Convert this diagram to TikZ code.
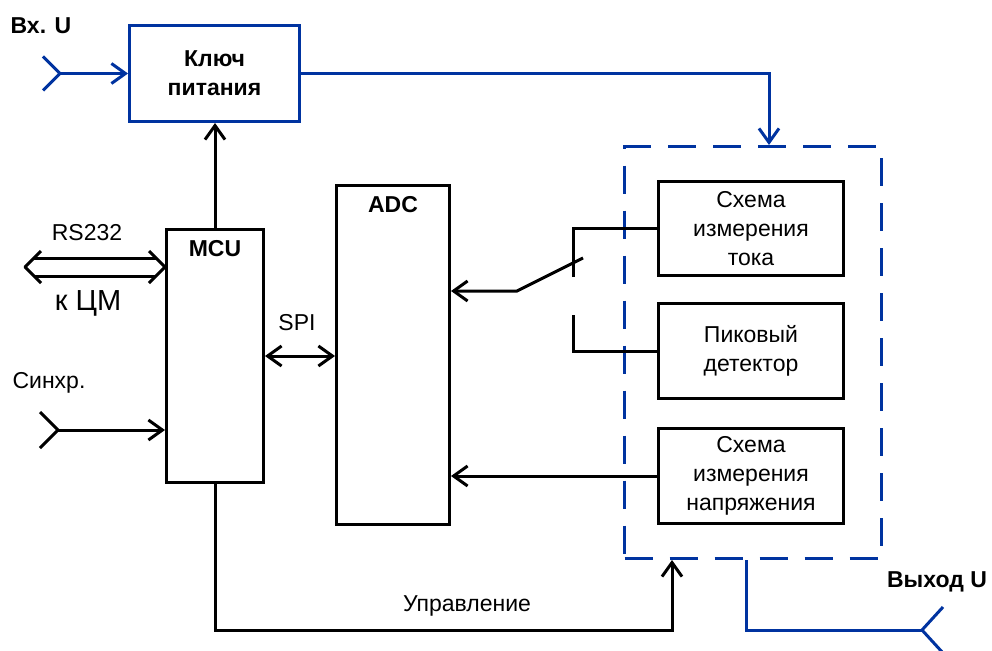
\documentclass[tikz,border=0pt]{standalone}
\usepackage{fontspec}
\setmainfont{Liberation Sans}
\usetikzlibrary{arrows.meta,positioning}
\definecolor{line-blue}{RGB}{0,51,160}

\begin{document}
\begin{tikzpicture}[x=1pt, y=-1pt, line width=3pt,
    every node/.style={font=\fontsize{23}{29}\selectfont},
    unit box/.style={draw, line width=3pt, inner sep=0pt, align=center, anchor=north west},
    blue box/.style={unit box, draw=line-blue},
    bold text/.style={font=\fontsize{23}{29}\selectfont\bfseries},
    barb/.style={-{Straight Barb[length=14pt, width=20pt]}},
    fork/.style={line width=3pt},
    bus/.style={line width=3pt, line join=round}
]
\useasboundingbox (0,0) rectangle (992,650);

% boxes
\node[blue box, bold text, minimum width=170pt, minimum height=96pt] (key) at (128,24) {Ключ\\питания};
\node[unit box, minimum width=97pt, minimum height=253pt] (mcu) at (165,228) {};
\node[unit box, minimum width=113pt, minimum height=339pt] (adc) at (335,184) {};
\node[bold text, below=8pt of mcu.north] (mcu label) {MCU};
\node[bold text, below=8pt of adc.north] (adc label) {ADC};

% measuring block
\node[blue box, dash pattern=on 28pt off 17pt, minimum width=257pt, minimum height=412pt] (meas) at (623,145) {};
\node[unit box, minimum width=185pt, minimum height=94pt] (cur) at (657,180) {Схема\\измерения\\тока};
\node[unit box, minimum width=185pt, minimum height=95pt] (peak) at (657,302) {Пиковый\\детектор};
\node[unit box, minimum width=185pt, minimum height=95pt] (volt) at (657,427) {Схема\\измерения\\напряжения};

% power in and out
\coordinate (vx in) at (key.west -| 60,0);
\draw[line-blue, fork] ([shift={(-17,-17)}]vx in) -- (vx in) -- ([shift={(-17,17)}]vx in);
\draw[line-blue, barb] (vx in) -- (key.west);
\node[bold text] (in label) at (41,26) {Вх. U};
\draw[line-blue, barb] (key.east) -| ([xshift=16pt]meas.north);

\coordinate (vx out) at (922,630);
\draw[line-blue] ([xshift=-6.5pt]meas.south) |- (vx out);
\draw[line-blue, fork] (943,607) -- (vx out) -- (943,653);
\node[bold text] (out label) at (937,582) {Выход U};

% MCU links
\draw[barb] (mcu.north) -- (mcu.north |- key.south);
\draw[{Straight Barb[length=14pt, width=20pt]}-{Straight Barb[length=14pt, width=20pt]}] (mcu.east) -- (mcu.east -| adc.west);
\node (spi label) at (297,323) {SPI};

% RS232 bus
\coordinate (rs left) at (25,267);
\coordinate (rs right) at (rs left -| mcu.west);
\draw[bus] ([shift={(16,-16)}]rs left) -- (rs left) -- ([shift={(16,16)}]rs left);
\draw[bus] ([shift={(-16,-16)}]rs right) -- (rs right) -- ([shift={(-16,16)}]rs right);
\draw[bus] ([shift={(9,-9)}]rs left) -- ([shift={(-9,-9)}]rs right);
\draw[bus] ([shift={(9,9)}]rs left) -- ([shift={(-9,9)}]rs right);
\node (rs label) at (87,233) {RS232};
\node[font=\fontsize{29}{34}\selectfont] (cm label) at (88,303) {к ЦМ};

\coordinate (vx sync) at (58,430);
\draw[fork] (40,412) -- (vx sync) -- (40,448);
\draw[barb] (vx sync) -- (vx sync -| mcu.west);
\node (sync label) at (49,383) {Синхр.};

% switch to ADC
\coordinate (sw pivot) at (517,291);
\coordinate (sw blade) at (583,258);
\coordinate (sw top) at (573,277);
\coordinate (sw low) at (573,315);
\draw (sw top) |- (cur.west);
\draw (sw low) |- (peak.west);
\draw[barb] (sw blade) -- (sw pivot) -- (sw pivot -| adc.east);
\draw[barb] (volt.west) -- (volt.west -| adc.east);

% control
\coordinate (ctrl) at (672,630);
\draw[barb] (mcu.south) |- (ctrl) -- (ctrl |- meas.south);
\node (ctrl label) at (467,606) {Управление};

\end{tikzpicture}
\end{document}
